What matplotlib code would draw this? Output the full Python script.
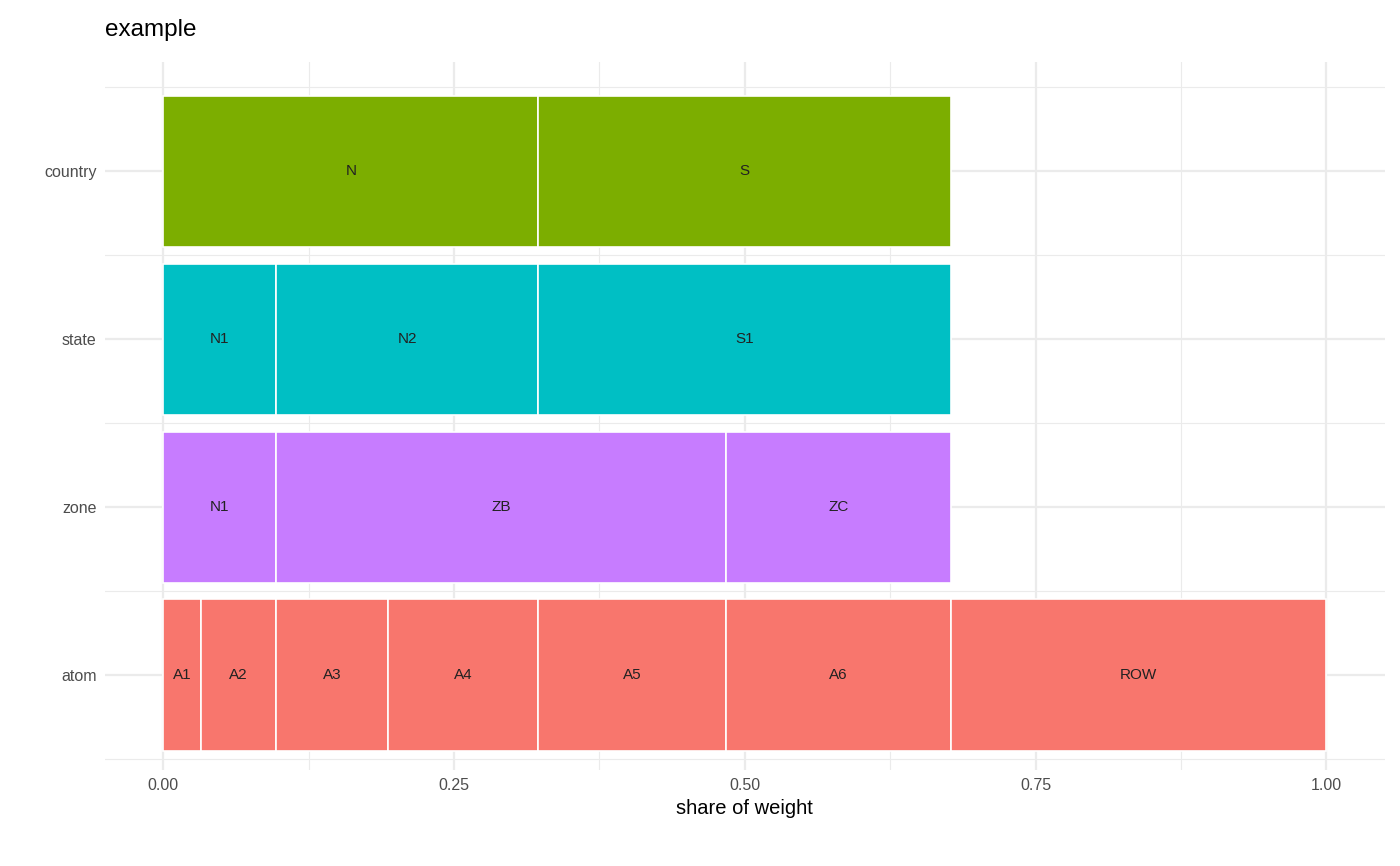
import matplotlib
matplotlib.use("Agg")
import matplotlib.pyplot as plt

plt.rcParams['font.family'] = ['Liberation Sans', 'DejaVu Sans']

levels = ["atom", "zone", "state", "country"]
colors = {"atom": "#F8766D", "zone": "#C77CFF", "state": "#00BFC4", "country": "#7CAE00"}
segments = {
    "atom": (["A1", "A2", "A3", "A4", "A5", "A6", "ROW"],
             [0.0323, 0.0645, 0.0968, 0.1290, 0.1613, 0.1935, 0.3226]),
    "zone": (["N1", "ZB", "ZC"], [0.0968, 0.3871, 0.1935]),
    "state": (["N1", "N2", "S1"], [0.0968, 0.2258, 0.3548]),
    "country": (["N", "S"], [0.3226, 0.3548]),
}

fig = plt.figure(figsize=(14, 8.66), dpi=100)
ax = fig.add_axes([0.075, 0.111, 0.914, 0.817])
ax.set_xlim(-0.05, 1.05)
ax.set_ylim(-0.565, 3.649)

for x in [0.125, 0.375, 0.625, 0.875]:
    ax.axvline(x, color="#EBEBEB", lw=0.8, zorder=0)
for x in [0, 0.25, 0.5, 0.75, 1.0]:
    ax.axvline(x, color="#EBEBEB", lw=1.6, zorder=0)
for y in [-0.5, 0.5, 1.5, 2.5, 3.5]:
    ax.axhline(y, color="#EBEBEB", lw=0.8, zorder=0)
for y in range(4):
    ax.axhline(y, color="#EBEBEB", lw=1.6, zorder=0)

for i, lev in enumerate(levels):
    labels, widths = segments[lev]
    left = 0.0
    for lab, w in zip(labels, widths):
        ax.barh(i, w, left=left, height=0.9, color=colors[lev], edgecolor="white", linewidth=1.2, zorder=2)
        ax.text(left + w / 2, i, lab, ha="center", va="center", fontsize=11, color="#222222", zorder=3)
        left += w

ax.set_yticks(range(4))
ax.set_yticklabels(levels)
ax.set_xticks([0, 0.25, 0.5, 0.75, 1.0])
ax.set_xticklabels(["0.00", "0.25", "0.50", "0.75", "1.00"])
ax.tick_params(length=0, labelsize=11.5, labelcolor="#4D4D4D", pad=6)
for s in ax.spines.values():
    s.set_visible(False)
ax.set_xlabel("share of weight", fontsize=14.5, labelpad=4)
fig.text(0.075, 0.965, "example", fontsize=17.5, ha="left", va="center")
fig.savefig("out.png", dpi=100)
